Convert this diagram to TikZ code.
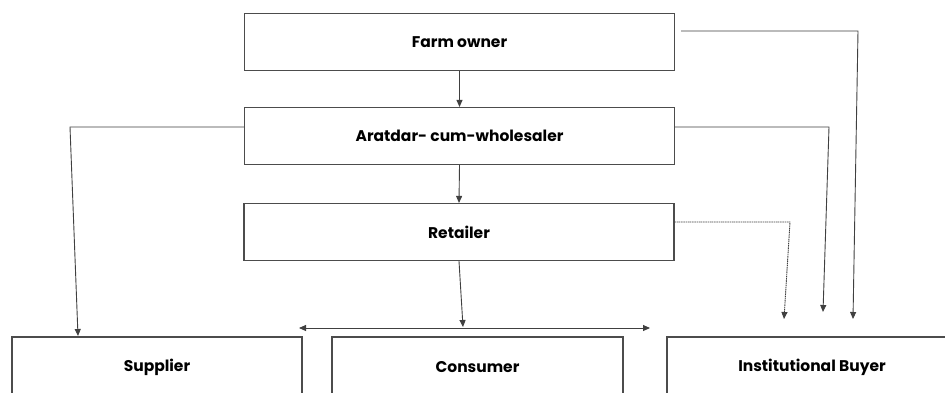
\documentclass[tikz,border=0pt]{standalone}
\usepackage{fontspec}
\setmainfont{Poppins}
\usetikzlibrary{arrows.meta}
\tikzset{
  box/.style={draw=black!70, line width=1.1pt, fill=white, inner sep=0pt, font=\bfseries\fontsize{15.5}{18}\selectfont},
  topbox/.style={box, minimum width=430pt, minimum height=57pt},
  botbox/.style={box, minimum height=60pt},
  conn/.style={draw=black!75, line width=0.9pt},
  arr/.style={conn, -{Triangle[length=7pt,width=6pt]}},
  darr/.style={conn, {Triangle[length=7pt,width=6pt]}-{Triangle[length=7pt,width=6pt]}},
  dotconn/.style={conn, dash pattern=on 1.5pt off 0.7pt}
}
\begin{document}
\begin{tikzpicture}[x=1pt,y=-1pt]
\useasboundingbox (0,0) rectangle (945,392);
\clip (0,0) rectangle (945,392);
\fill[white] (0,0) rectangle (945,392);
% boxes
\node[topbox] (fo) at (459.5,42) {Farm owner};
\node[topbox] (ar) at (459.5,136) {Aratdar- cum-wholesaler};
\node[topbox] (re) at (459,232) {Retailer};
\node[botbox, minimum width=290pt] (su) at (157,367) {Supplier};
\node[botbox, minimum width=291pt] (co) at (477.5,367) {Consumer};
\node[botbox, minimum width=290pt] (ib) at (812,367) {Institutional Buyer};
% coordinates
\coordinate (c1) at (463,327);
\coordinate (dl) at (299,328);
\coordinate (dr) at (650,328);
\coordinate (a1) at (70,127);
\coordinate (s1) at (78,336);
\coordinate (a2) at (829,127);
\coordinate (a3) at (823,312);
\coordinate (f2) at (858,31);
\coordinate (f3) at (853,319);
\coordinate (r1) at (790,222);
\coordinate (r2) at (784,319);
% connectors
\draw[arr] (fo.south) -- (ar.north);
\draw[arr] (ar.south) -- (re.north);
\draw[arr] (re.south) -- (c1);
\draw[darr] (dl) -- (dr);
\draw[arr] (ar.west |- a1) -- (a1) -- (s1);
\draw[arr] (ar.east |- a2) -- (a2) -- (a3);
\draw[arr] ([xshift=6pt]fo.east |- f2) -- (f2) -- (f3);
\draw[dotconn, -{Triangle[length=7pt,width=6pt]}] (re.east |- r1) -- (r1) -- (r2);
\end{tikzpicture}
\end{document}
